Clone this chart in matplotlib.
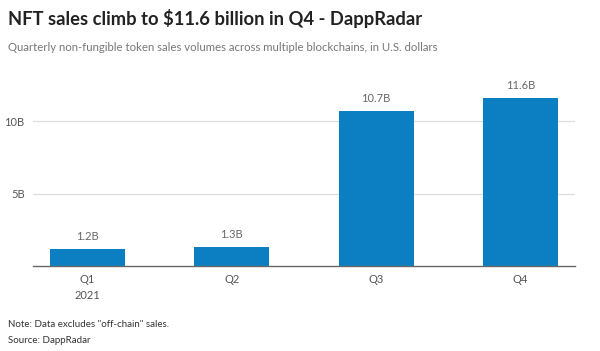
import matplotlib.pyplot as plt
import numpy as np

# quarterly NFT sales, billions USD
quarters = ['Q1\n2021', 'Q2', 'Q3', 'Q4']
sales = [1.2, 1.3, 10.7, 11.6]
labels = ['1.2B', '1.3B', '10.7B', '11.6B']
yticks = [5, 10]
ytick_labels = ['5B', '10B']

plt.rcParams['font.family'] = ['Lato', 'DejaVu Sans']

fig = plt.figure(figsize=(6, 3.51), dpi=100)
ax = fig.add_axes([0.055, 0.242, 0.903, 0.507])

x = np.arange(len(quarters))
ax.bar(x, sales, width=0.52, color='#0b7fc1', zorder=3)
for i in range(len(sales)):
    ax.annotate(labels[i], (x[i], sales[i]), xytext=(0, 5), textcoords='offset points',
                ha='center', va='bottom', fontsize=8, color='#666666')

ax.set_xlim(-0.375, 3.375)
ax.set_ylim(0, 12.3)
ax.set_xticks(x)
ax.set_xticklabels(quarters, fontsize=8, color='#555555', linespacing=1.5)
ax.set_yticks(yticks)
ax.set_yticklabels(ytick_labels, fontsize=8, color='#555555')
ax.tick_params(axis='both', length=0, pad=6)
ax.grid(axis='y', color='#dddddd', linewidth=0.9, zorder=0)
for s in ['top', 'right', 'left']:
    ax.spines[s].set_visible(False)
ax.spines['bottom'].set_color('#666666')
ax.spines['bottom'].set_linewidth(1)
ax.spines['bottom'].set_zorder(4)

fig.text(0.013, 0.948, 'NFT sales climb to $11.6 billion in Q4 - DappRadar',
         fontsize=13.2, fontweight='bold', color='#222222', va='center')
fig.text(0.013, 0.866, 'Quarterly non-fungible token sales volumes across multiple blockchains, in U.S. dollars',
         fontsize=8.2, color='#777777', va='center')
fig.text(0.013, 0.075, 'Note: Data excludes "off-chain" sales.', fontsize=7, color='#333333', va='center')
fig.text(0.013, 0.030, 'Source: DappRadar', fontsize=7, color='#333333', va='center')

plt.savefig('out.png', dpi=100)
